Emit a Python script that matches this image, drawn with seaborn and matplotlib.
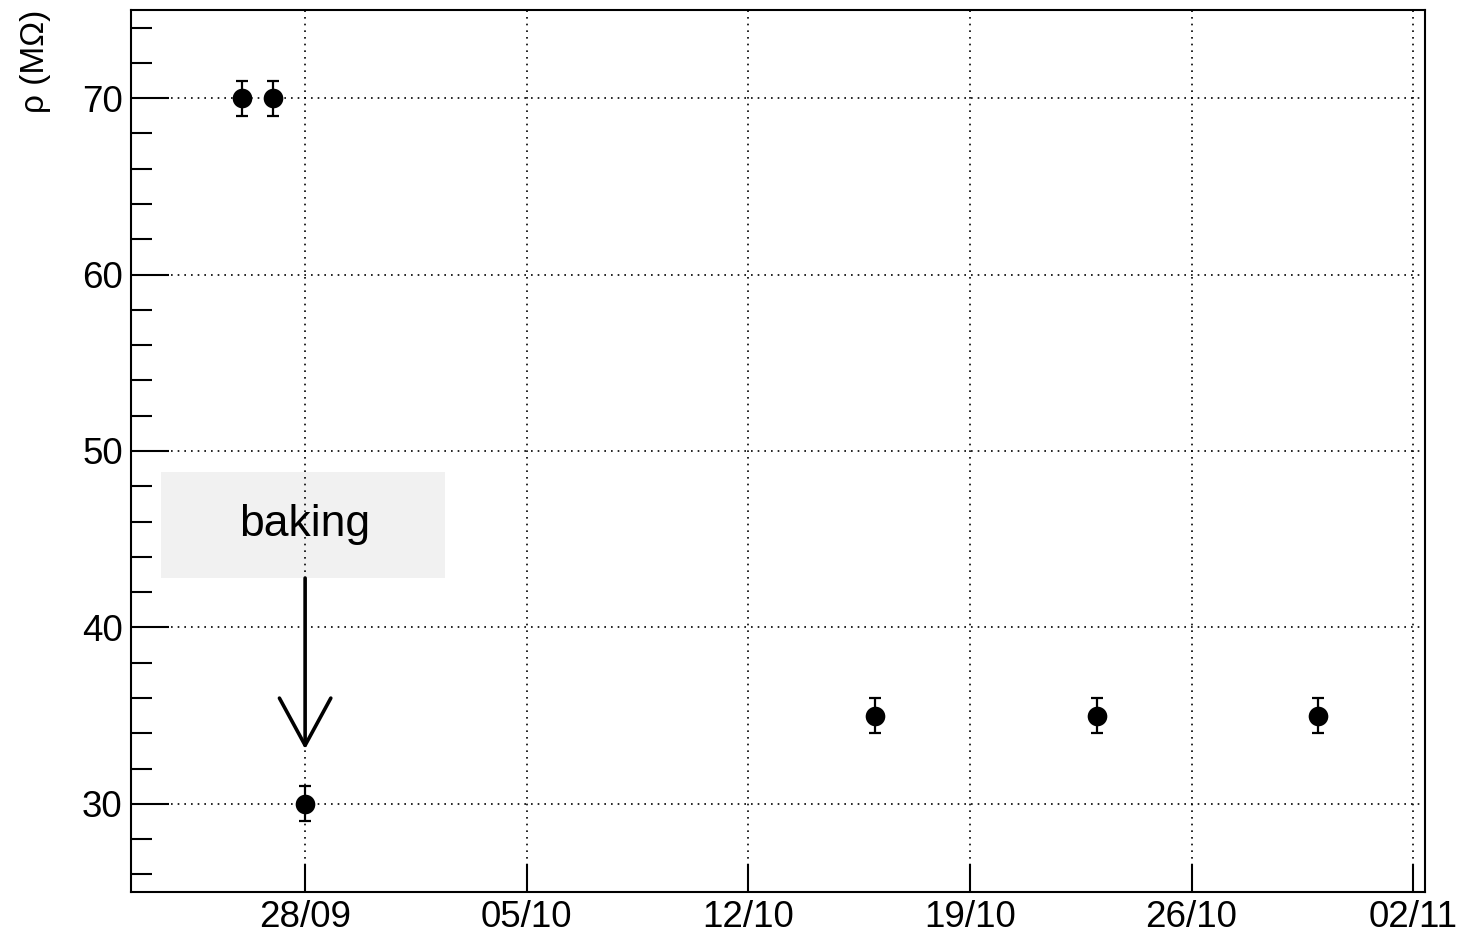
import matplotlib
matplotlib.use("Agg")
import matplotlib.pyplot as plt
import pandas as pd
import seaborn as sns

# Measurement dates and resistivity values
dates = ["2016-09-26", "2016-09-27", "2016-09-28", "2016-10-16", "2016-10-23", "2016-10-30"]
rho = [70, 70, 30, 35, 35, 35]
rho_err = [1, 1, 1, 1, 1, 1]
tick_dates = ["2016-09-28", "2016-10-05", "2016-10-12", "2016-10-19", "2016-10-26", "2016-11-02"]
tick_labels = ["28/09", "05/10", "12/10", "19/10", "26/10", "02/11"]

df = pd.DataFrame({"date": pd.to_datetime(dates), "rho": rho, "err": rho_err})

sns.set_style("white")
plt.rcParams["font.family"] = ["Liberation Sans", "DejaVu Sans"]
plt.rcParams["text.color"] = "black"
plt.rcParams["axes.labelcolor"] = "black"

fig = plt.figure(figsize=(14.65, 9.34), dpi=100)
ax = fig.add_axes([131 / 1465, 1 - 892 / 934, (1425 - 131) / 1465, (892 - 10) / 934])

ax.errorbar(df["date"], df["rho"], yerr=df["err"], fmt="none", ecolor="black",
            elinewidth=1.6, capsize=4.5, capthick=1.6, zorder=3)
sns.scatterplot(data=df, x="date", y="rho", ax=ax, color="black", s=200,
                edgecolor="black", linewidth=0, zorder=4)

ax.set_xlim(pd.Timestamp("2016-09-22 12:00"), pd.Timestamp("2016-11-02 09:00"))
ax.set_ylim(25, 75)

ax.set_xticks(pd.to_datetime(tick_dates))
ax.set_xticklabels(tick_labels)
ax.set_yticks([30, 40, 50, 60, 70])
ax.set_yticks([26, 28, 32, 34, 36, 38, 42, 44, 46, 48, 52, 54, 56, 58,
               62, 64, 66, 68, 72, 74], minor=True)

ax.tick_params(axis="both", which="both", direction="in", top=False, right=False,
               bottom=True, left=True, labelsize=26.5, colors="black", width=1.5)
ax.tick_params(axis="x", which="major", length=20, pad=6)
ax.tick_params(axis="y", which="major", length=27, pad=6)
ax.tick_params(axis="y", which="minor", length=15)
ax.tick_params(axis="x", which="minor", length=0)

ax.grid(True, which="major", color="black", linestyle=(0, (1, 3)), linewidth=1.2)
ax.set_axisbelow(False)
for sp in ax.spines.values():
    sp.set_color("black")
    sp.set_linewidth(1.5)

ax.set_xlabel("")
ax.set_ylabel("ρ (MΩ)", fontsize=24, loc="top", labelpad=22, color="black")

# Annotation box with arrow pointing to the post-baking measurement
ax.fill_between(pd.to_datetime(["2016-09-23 11:00", "2016-10-02 10:00"]), 42.8, 48.8,
                color="#f1f1f1", linewidth=0, zorder=2)
ax.text(pd.Timestamp("2016-09-28"), 45.85, "baking", fontsize=32, ha="center",
        va="center", color="black", zorder=5)
ax.annotate("", xy=(pd.Timestamp("2016-09-28"), 33.1), xytext=(pd.Timestamp("2016-09-28"), 42.8),
            arrowprops=dict(arrowstyle="->,head_length=3.4,head_width=1.85", lw=2.6,
                            color="black", shrinkA=0, shrinkB=0), zorder=5)

fig.savefig("out.png", dpi=100, facecolor="white")
